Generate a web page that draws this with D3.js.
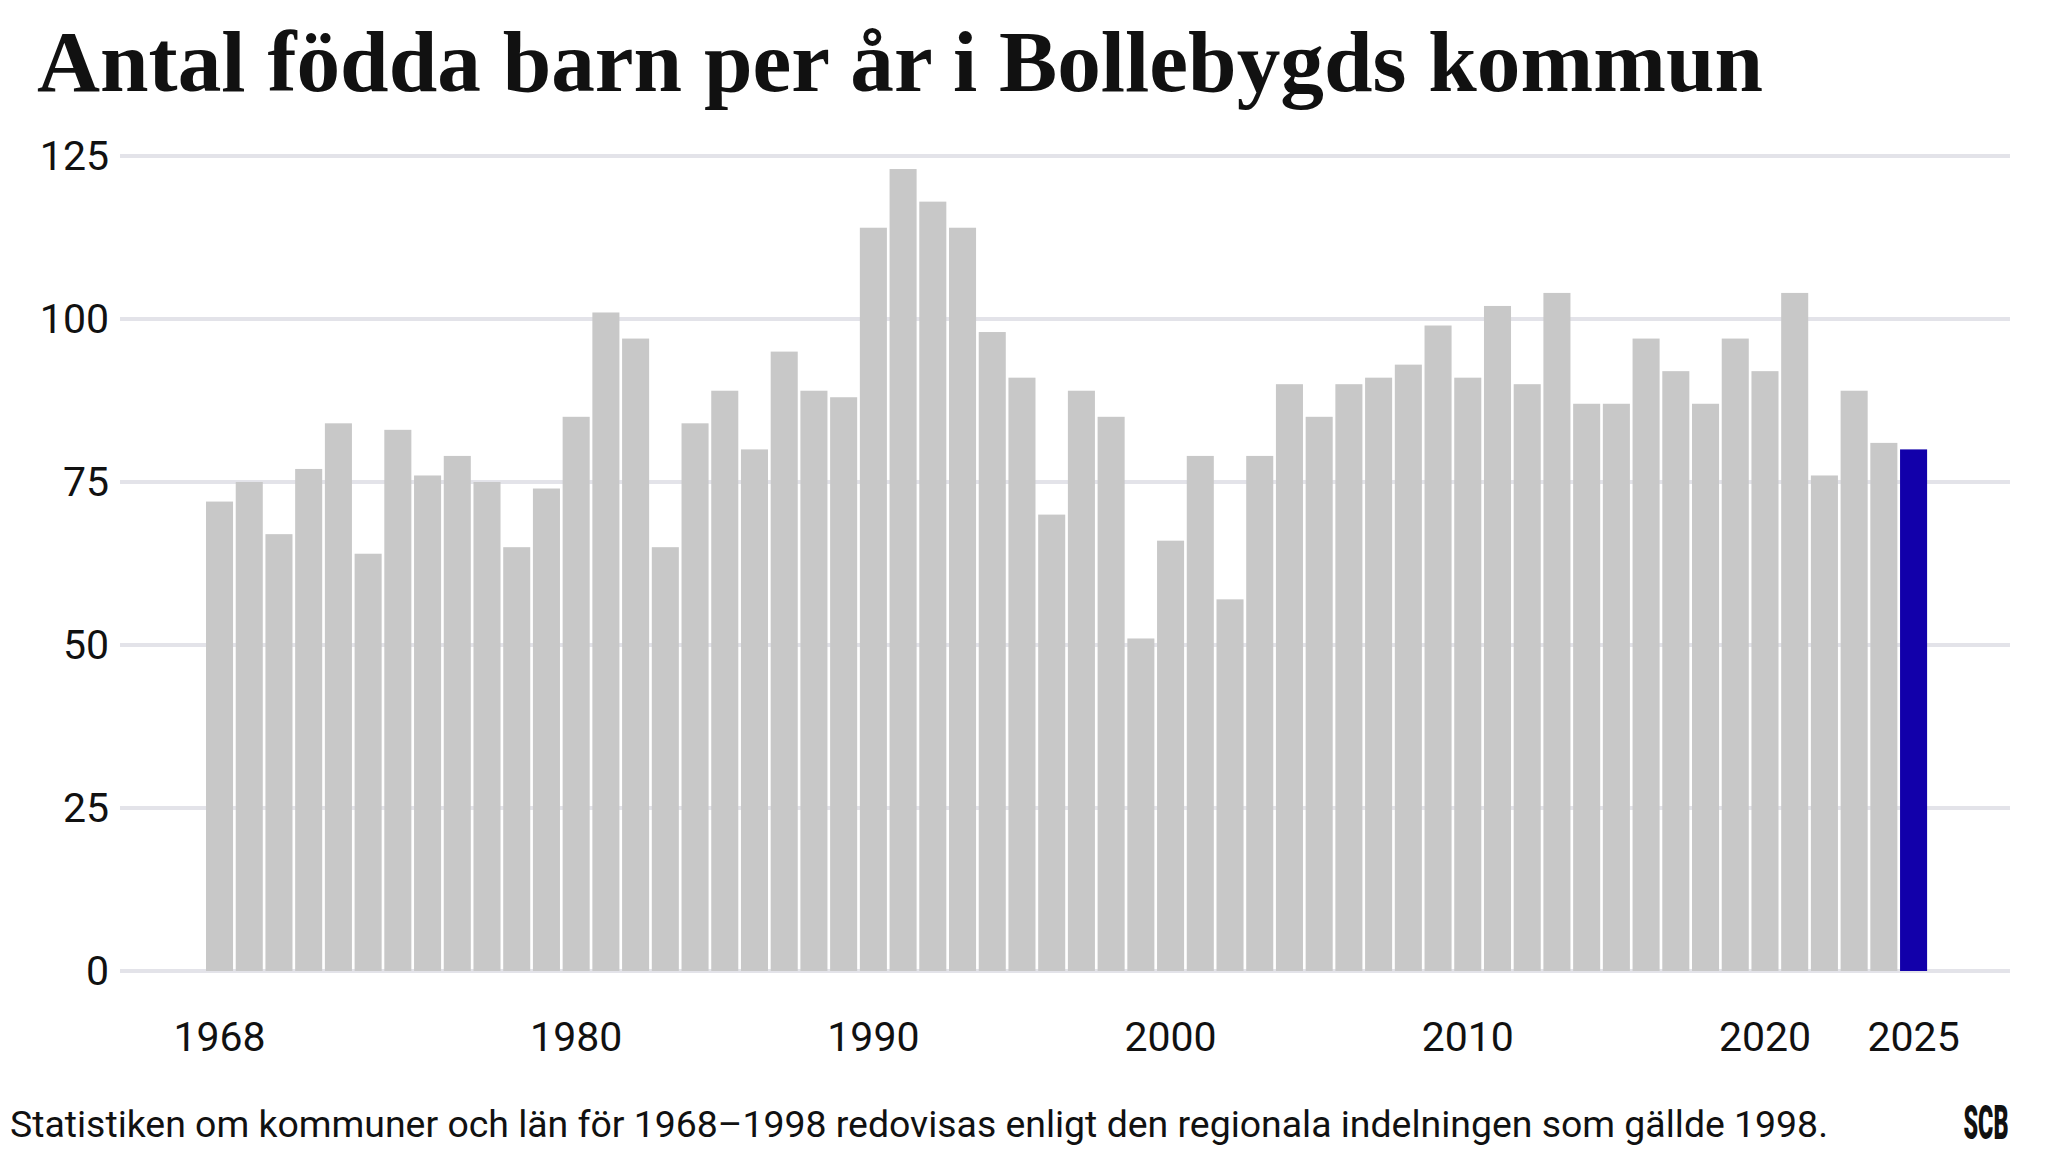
<!DOCTYPE html>
<html>
<head>
<meta charset="utf-8">
<script src="https://cdn.jsdelivr.net/npm/d3@7"></script>
<style>
  html, body { margin: 0; padding: 0; background: #ffffff; }
  svg { display: block; }
</style>
</head>
<body>
<svg id="chart" width="2048" height="1152"></svg>
<script>
const title = "Antal födda barn per år i Bollebygds kommun";
const footnote = "Statistiken om kommuner och län för 1968–1998 redovisas enligt den regionala indelningen som gällde 1998.";
const years = [1968,1969,1970,1971,1972,1973,1974,1975,1976,1977,
               1978,1979,1980,1981,1982,1983,1984,1985,1986,1987,
               1988,1989,1990,1991,1992,1993,1994,1995,1996,1997,
               1998,1999,2000,2001,2002,2003,2004,2005,2006,2007,
               2008,2009,2010,2011,2012,2013,2014,2015,2016,2017,
               2018,2019,2020,2021,2022,2023,2024,2025];
const births = [72,75,67,77,84,64,83,76,79,75,
                65,74,85,101,97,65,84,89,80,95,
                89,88,114,123,118,114,98,91,70,89,
                85,51,66,79,57,79,90,85,90,91,
                93,99,91,102,90,104,87,87,97,92,
                87,97,92,104,76,89,81,80];
const highlightYear = 2025;
const xTickLabels = [1968,1980,1990,2000,2010,2020,2025];
const yTickLabels = [0,25,50,75,100,125];

const svg = d3.select("#chart");

const x = d3.scaleBand().domain(years).range([206, 1927.1]).paddingInner(0.09).paddingOuter(0);
const y = d3.scaleLinear().domain([0, 125]).range([971, 156]);

// gridlines
svg.append("g").selectAll("line").data(yTickLabels).join("line")
  .attr("x1", 120).attr("x2", 2010)
  .attr("y1", d => y(d)).attr("y2", d => y(d))
  .attr("stroke", "#e3e3e9").attr("stroke-width", 4);

// bars
svg.append("g").selectAll("rect").data(years).join("rect")
  .attr("x", d => x(d))
  .attr("width", x.bandwidth())
  .attr("y", (d, i) => y(births[i]))
  .attr("height", (d, i) => y(0) - y(births[i]))
  .attr("fill", d => d === highlightYear ? "#1200aa" : "#c8c8c8");

// y axis
const yAxis = svg.append("g").attr("transform", "translate(120,0)")
  .call(d3.axisLeft(y).tickValues(yTickLabels).tickSize(0).tickPadding(11));
yAxis.select(".domain").remove();
yAxis.selectAll("text").attr("font-family", "Roboto").attr("font-size", 41).attr("fill", "#111");

// x axis
const xAxis = svg.append("g").attr("transform", "translate(0,971)")
  .call(d3.axisBottom(x).tickValues(xTickLabels).tickSize(0).tickPadding(51));
xAxis.select(".domain").remove();
xAxis.selectAll("text").attr("font-family", "Roboto").attr("font-size", 41).attr("fill", "#111");

// title
const t = svg.append("text").attr("x", 37).attr("y", 91)
  .attr("font-family", "'Liberation Serif', 'DejaVu Serif', serif")
  .attr("font-weight", 700).attr("font-size", 86).attr("fill", "#111")
  .text(title);
const tl = t.node().getComputedTextLength();
if (Math.abs(tl - 1726) > 10) t.attr("textLength", 1726).attr("lengthAdjust", "spacingAndGlyphs");

// footnote
const f = svg.append("text").attr("x", 10).attr("y", 1137)
  .attr("font-family", "Roboto").attr("font-size", 36).attr("fill", "#111")
  .text(footnote);
const fl = f.node().getComputedTextLength();
if (Math.abs(fl - 1818) > 8) f.attr("textLength", 1818).attr("lengthAdjust", "spacingAndGlyphs");

// SCB logo
svg.append("g").attr("transform", "translate(1986,1139) scale(0.73,1.5)")
  .append("text")
  .attr("text-anchor", "middle")
  .attr("font-family", "Roboto").attr("font-weight", 900).attr("font-size", 32)
  .attr("fill", "#111").text("SCB");
</script>
</body>
</html>
